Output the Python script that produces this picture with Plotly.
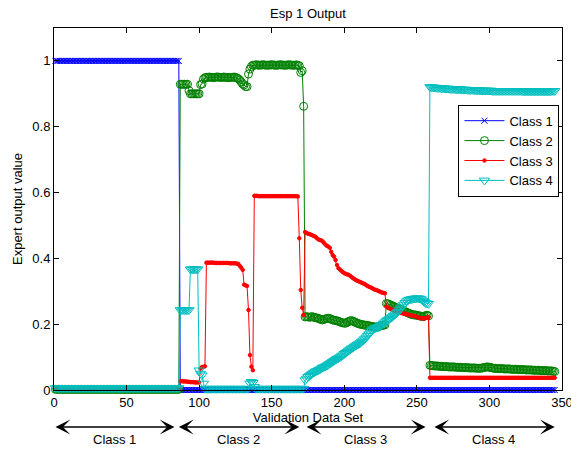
import plotly.graph_objects as go

# ---------------- data ----------------
sample_index = list(range(1, 346))

# Class 1 expert output (blue, x markers)
class1_values = [1.0] * 86 + [0.0] * 259

# Class 2 expert output (green, open circles)
class2_seg1 = [0.002] * 86
class2_seg2 = ([0.929] * 6 + [0.91] + [0.9] * 7 + [0.928, 0.93, 0.945] +
               [0.949, 0.95, 0.95, 0.951, 0.95, 0.95, 0.949, 0.95, 0.951, 0.951, 0.95, 0.95,
                0.95, 0.951, 0.95, 0.95, 0.949, 0.95, 0.95, 0.95, 0.951, 0.95, 0.948, 0.946] +
               [0.942, 0.936, 0.93, 0.927, 0.922, 0.922] +
               [0.96, 0.975, 0.983] +
               [0.987, 0.987, 0.988, 0.988, 0.987, 0.987, 0.988, 0.988, 0.988, 0.987, 0.987,
                0.987, 0.988, 0.988, 0.988, 0.987, 0.987, 0.987, 0.988, 0.988, 0.988, 0.987,
                0.987, 0.987, 0.988, 0.988, 0.988, 0.987, 0.987, 0.987, 0.988, 0.987, 0.985] +
               [0.965, 0.97, 0.862])
class2_seg3 = [0.222, 0.223, 0.222, 0.221, 0.222, 0.223, 0.221, 0.22, 0.219, 0.218,
               0.216, 0.214, 0.213, 0.215, 0.216, 0.217, 0.218, 0.217, 0.215, 0.213,
               0.212, 0.211, 0.21, 0.209, 0.207, 0.205, 0.204, 0.203, 0.203, 0.206,
               0.208, 0.21, 0.211, 0.209, 0.207, 0.205, 0.203, 0.201, 0.2, 0.199,
               0.198, 0.197, 0.197, 0.196, 0.195, 0.194, 0.193, 0.192, 0.192, 0.191,
               0.192, 0.193, 0.195, 0.196, 0.197, 0.198,
               0.263, 0.262, 0.26, 0.258, 0.256, 0.254, 0.252, 0.25, 0.248, 0.246,
               0.244, 0.242, 0.24, 0.238, 0.236, 0.234, 0.232, 0.23, 0.229, 0.228,
               0.228, 0.227, 0.226, 0.225, 0.224, 0.223, 0.224, 0.226, 0.227, 0.225]
class2_seg4 = [0.075, 0.074, 0.074, 0.073, 0.073, 0.073, 0.072, 0.072, 0.072, 0.071,
               0.071, 0.071, 0.071, 0.07, 0.07, 0.07, 0.07, 0.07, 0.069, 0.069,
               0.069, 0.069, 0.068, 0.068, 0.068, 0.068, 0.068, 0.067, 0.067, 0.067,
               0.067, 0.067, 0.066, 0.066, 0.066, 0.066, 0.067, 0.068, 0.069, 0.07,
               0.07, 0.069, 0.068, 0.067, 0.066, 0.066, 0.065, 0.065, 0.065, 0.065,
               0.065, 0.064, 0.064, 0.064, 0.064, 0.064, 0.063, 0.063, 0.063, 0.063,
               0.063, 0.062, 0.062, 0.062, 0.062, 0.062, 0.061, 0.061, 0.061, 0.061,
               0.061, 0.06, 0.06, 0.06, 0.06, 0.06, 0.059, 0.059, 0.059, 0.059,
               0.059, 0.058, 0.058, 0.058, 0.058, 0.057, 0.056]
class2_values = class2_seg1 + class2_seg2 + class2_seg3 + class2_seg4

# Class 3 expert output (red, dots)
class3_seg1 = [0.004] * 86
class3_seg2 = ([0.027, 0.027, 0.026, 0.026, 0.026, 0.025, 0.025, 0.024, 0.024, 0.024,
                0.023, 0.023, 0.023, 0.023] +
               [0.065, 0.07, 0.07, 0.072] +
               [0.387, 0.387, 0.387, 0.387, 0.387, 0.387, 0.386, 0.386, 0.386, 0.386,
                0.386, 0.386, 0.386, 0.386, 0.386, 0.386, 0.385, 0.385, 0.385, 0.385,
                0.385, 0.384, 0.383] +
               [0.377, 0.372, 0.365, 0.32, 0.318, 0.316, 0.243, 0.106, 0.071, 0.06] +
               [0.59, 0.59, 0.59, 0.589, 0.589, 0.589, 0.589, 0.589, 0.589, 0.589,
                0.589, 0.589, 0.589, 0.589, 0.589, 0.589, 0.589, 0.589, 0.589, 0.589,
                0.589, 0.589, 0.589, 0.589, 0.589, 0.589, 0.589, 0.589, 0.589, 0.589, 0.588] +
               [0.461, 0.304, 0.25, 0.228])
class3_seg3 = [0.48, 0.477, 0.475, 0.474, 0.472, 0.47, 0.468, 0.466, 0.462, 0.458,
               0.456, 0.455, 0.452, 0.447, 0.442, 0.438, 0.436, 0.432, 0.42, 0.41,
               0.405, 0.395, 0.38, 0.37, 0.366, 0.362, 0.358, 0.355, 0.353, 0.351,
               0.35, 0.347, 0.343, 0.34, 0.337, 0.334, 0.332, 0.33, 0.328, 0.326,
               0.324, 0.322, 0.319, 0.316, 0.314, 0.312, 0.31, 0.307, 0.305, 0.304,
               0.302, 0.3, 0.298, 0.296, 0.295, 0.294, 0.253, 0.25, 0.248, 0.246,
               0.244, 0.242, 0.24, 0.238, 0.236, 0.235, 0.234, 0.233, 0.232, 0.231,
               0.23, 0.229, 0.228, 0.227, 0.226, 0.225, 0.224, 0.222, 0.22, 0.219,
               0.218, 0.218, 0.217, 0.219, 0.22, 0.221]
class3_seg4 = [0.037] * 87
class3_values = class3_seg1 + class3_seg2 + class3_seg3 + class3_seg4

# Class 4 expert output (cyan, down triangles)
class4_seg1 = [0.006] * 86
class4_seg2 = ([0.243] * 7 + [0.367] * 6 + [0.06, 0.05, 0.045, 0.02] +
               [0.004] * 31 + [0.02, 0.025, 0.022, 0.01] + [0.004] * 34)
class4_seg3 = [0.03, 0.035, 0.04, 0.043, 0.046, 0.05, 0.053, 0.056, 0.058, 0.06,
               0.062, 0.065, 0.068, 0.07, 0.072, 0.074, 0.077, 0.08, 0.083, 0.086,
               0.089, 0.092, 0.095, 0.097, 0.1, 0.103, 0.106, 0.11, 0.113, 0.116,
               0.12, 0.123, 0.126, 0.129, 0.132, 0.135, 0.138, 0.14, 0.143, 0.147,
               0.151, 0.155, 0.16, 0.165, 0.17, 0.175, 0.18, 0.184, 0.187, 0.19,
               0.19, 0.192, 0.195, 0.198, 0.202, 0.206, 0.21, 0.213, 0.216, 0.219,
               0.222, 0.226, 0.23, 0.234, 0.238, 0.243, 0.248, 0.254, 0.26, 0.265,
               0.27, 0.273, 0.275, 0.276, 0.277, 0.278, 0.278, 0.279, 0.279, 0.278,
               0.276, 0.272, 0.268, 0.265, 0.263, 0.262]
class4_seg4 = [0.921, 0.92, 0.92, 0.919, 0.919, 0.918, 0.918, 0.918, 0.917, 0.917,
               0.917, 0.916, 0.916, 0.916, 0.915, 0.915, 0.915, 0.915, 0.914, 0.914,
               0.914, 0.914, 0.913, 0.913, 0.913, 0.913, 0.912, 0.912, 0.912, 0.912,
               0.912, 0.911, 0.911, 0.911, 0.911, 0.911, 0.91, 0.91, 0.91, 0.91,
               0.91, 0.91, 0.91, 0.909, 0.909, 0.909, 0.909, 0.909, 0.909, 0.909,
               0.909, 0.909, 0.909, 0.909, 0.909, 0.909, 0.909, 0.909, 0.909, 0.909,
               0.909, 0.909, 0.909, 0.909, 0.908, 0.908, 0.908, 0.908, 0.908, 0.908,
               0.908, 0.908, 0.908, 0.908, 0.908, 0.908, 0.908, 0.908, 0.908, 0.908,
               0.908, 0.908, 0.908, 0.908, 0.909, 0.909, 0.909]
class4_values = class4_seg1 + class4_seg2 + class4_seg3 + class4_seg4

series_names = ["Class 1", "Class 2", "Class 3", "Class 4"]
x_tick_values = [0, 50, 100, 150, 200, 250, 300, 350]
y_tick_values = [0, 0.2, 0.4, 0.6, 0.8, 1.0]

# spans of the validation samples belonging to each class (bottom arrows)
class_span_start = [0, 85, 173, 261]
class_span_end = [83, 169, 256, 345]

# ---------------- figure ----------------
FONT = "Liberation Sans, Arial, Helvetica, sans-serif"
styles = [
    dict(color="#0000FF", symbol="x-thin", size=6),
    dict(color="#008000", symbol="circle-open", size=8),
    dict(color="#FF0000", symbol="circle", size=3.5),
    dict(color="#00BFBF", symbol="triangle-down-open", size=9),
]
all_values = [class1_values, class2_values, class3_values, class4_values]

fig = go.Figure()
for name, ys, st in zip(series_names, all_values, styles):
    fig.add_trace(go.Scatter(
        x=sample_index, y=ys, name=name, mode="lines+markers",
        line=dict(color=st["color"], width=1),
        marker=dict(symbol=st["symbol"], size=st["size"], color=st["color"],
                    line=dict(color=st["color"], width=1)),
        cliponaxis=False,
    ))

axis_common = dict(showline=True, linecolor="black", linewidth=1, mirror="ticks",
                   ticks="inside", ticklen=5, tickwidth=1, tickcolor="black",
                   showgrid=False, zeroline=False, automargin=False,
                   ticklabeloverflow="allow",
                   tickfont=dict(family=FONT, size=13, color="black"))

fig.update_layout(
    width=571, height=449,
    margin=dict(l=54, r=9, t=28, b=59, autoexpand=False),
    paper_bgcolor="white", plot_bgcolor="white",
    font=dict(family=FONT, size=13, color="black"),
    title=dict(text="Esp 1 Output", x=0.5, xref="paper", xanchor="center",
               y=1 - 13 / 449, yref="container", yanchor="middle",
               font=dict(family=FONT, size=13, color="black")),
    xaxis=dict(range=[0, 350], tickvals=x_tick_values,
               title=dict(text="Validation Data Set", standoff=0,
                          font=dict(family=FONT, size=13, color="black")),
               **axis_common),
    yaxis=dict(range=[0, 1.1], tickvals=y_tick_values,
               title=dict(text="Expert output value", standoff=6,
                          font=dict(family=FONT, size=13, color="black")),
               **axis_common),
    legend=dict(x=0.995, xanchor="right", y=0.788, yanchor="top",
                bgcolor="white", bordercolor="black", borderwidth=1,
                font=dict(family=FONT, size=13, color="black"),
                itemwidth=40, tracegroupgap=0),
    showlegend=True,
)

arrow_y = -37 / 362
label_y = -49 / 362
for i, (s, e) in enumerate(zip(class_span_start, class_span_end)):
    fig.add_annotation(x=e, y=arrow_y, xref="x", yref="paper",
                       ax=s, ay=0, axref="x", ayref="pixel",
                       text="", showarrow=True, arrowside="end+start",
                       arrowhead=3, startarrowhead=3,
                       arrowsize=1.9, startarrowsize=1.9,
                       arrowwidth=1.3, arrowcolor="black",
                       standoff=0, startstandoff=0)
    fig.add_annotation(x=(s + e) / 2, y=label_y, xref="x", yref="paper",
                       text=series_names[i], showarrow=False,
                       xanchor="center", yanchor="middle",
                       font=dict(family=FONT, size=13, color="black"))

fig.write_html("out.html", config={"displayModeBar": False},
               post_script="document.body.style.margin='0';document.body.style.padding='0';")
